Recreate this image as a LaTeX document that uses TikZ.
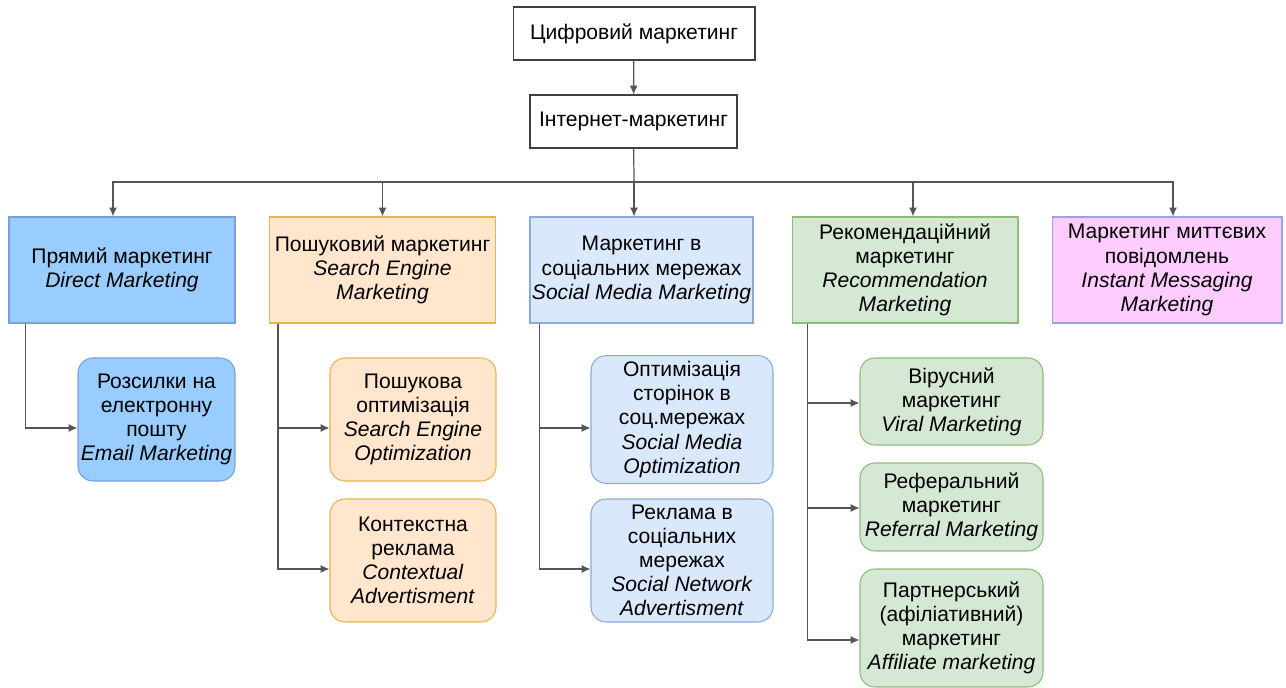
\documentclass[tikz,border=0pt]{standalone}
\usepackage{fontspec}
\setmainfont{Liberation Sans}
\usetikzlibrary{arrows.meta,calc}

\definecolor{dmfill}{RGB}{153,204,255}
\definecolor{dmline}{RGB}{120,160,220}
\definecolor{semfill}{RGB}{255,230,204}
\definecolor{semline}{RGB}{230,180,80}
\definecolor{smmfill}{RGB}{218,232,252}
\definecolor{smmline}{RGB}{140,170,215}
\definecolor{rmfill}{RGB}{213,232,212}
\definecolor{rmline}{RGB}{140,190,120}
\definecolor{immfill}{RGB}{255,204,255}
\definecolor{immline}{RGB}{160,160,230}
\definecolor{linkgray}{RGB}{85,85,85}

\tikzset{
	mappicture/.style = {
		x = 0.02cm,
		y = -0.02cm,
		font = \fontsize{12}{13.7}\selectfont,
		arrow/.style = {
			draw = linkgray,
			line width = 0.7pt,
			-{Latex[length=5pt,width=4.5pt]},
		},
		link/.style = {
			draw = linkgray,
			line width = 0.7pt,
		}
	},
	rootnode/.style = {
		rectangle,
		draw = black!75,
		line width = 0.6pt,
		align = center,
		minimum height = 1.06cm
	},
	catnode/.style = {
		rectangle,
		line width = 0.6pt,
		align = center,
		inner xsep = 1pt,
		minimum width = 4.52cm,
		minimum height = 2.12cm
	},
	subnode/.style = {
		rectangle,
		rounded corners = 0.3cm,
		line width = 0.6pt,
		align = center,
		inner xsep = 0.5pt
	},
	dm/.style = {fill = dmfill, draw = dmline},
	sem/.style = {fill = semfill, draw = semline},
	smm/.style = {fill = smmfill, draw = smmline},
	rm/.style = {fill = rmfill, draw = rmline},
	imm/.style = {fill = immfill, draw = immline}
}

\begin{document}
\begin{tikzpicture}[mappicture]
	\useasboundingbox (0,0) rectangle (1286,688);

	\node[rootnode, minimum width = 4.84cm] (digital) at (634,33.5) {Цифровий маркетинг};
	\node[rootnode, minimum width = 4.14cm] (internet) at (633.5,121.5) {Інтернет-маркетинг};

	\node[catnode, dm] (direct) at (122,270) {Прямий маркетинг\\ \textit{Direct Marketing}};
	\node[catnode, sem] (search) at (382.5,270) {Пошуковий маркетинг\\ \textit{Search Engine}\\ \textit{Marketing}};
	\node[catnode, smm, minimum width = 4.46cm] (social) at (641.5,270) {Маркетинг в\\ соціальних мережах\\ \textit{Social Media Marketing}};
	\node[catnode, rm] (recom) at (905,270) {Рекомендаційний\\ маркетинг\\ \textit{Recommendation}\\ \textit{Marketing}};
	\node[catnode, imm, minimum width = 4.6cm] (instant) at (1167,270) {Маркетинг миттєвих\\ повідомлень\\ \textit{Instant Messaging}\\ \textit{Marketing}};

	\node[subnode, dm, minimum width = 3.14cm, minimum height = 2.46cm] (email) at (156.5,419.5) {Розсилки на\\ електронну\\ пошту\\ \textit{Email Marketing}};

	\node[subnode, sem, minimum width = 3.32cm, minimum height = 2.46cm] (seo) at (413,419.5) {Пошукова\\ оптимізація\\ \textit{Search Engine}\\ \textit{Optimization}};
	\node[subnode, sem, minimum width = 3.32cm, minimum height = 2.46cm] (context) at (413,560.5) {Контекстна\\ реклама\\ \textit{Contextual}\\ \textit{Advertisment}};

	\node[subnode, smm, minimum width = 3.64cm, minimum height = 2.46cm] (smo) at (682,419.5) {Оптимізація\\ сторінок в\\ соц.мережах\\ \textit{Social Media}\\ \textit{Optimization}};
	\node[subnode, smm, minimum width = 3.64cm, minimum height = 2.46cm] (sna) at (682,560.5) {Реклама в\\ соціальних\\ мережах\\ \textit{Social Network}\\ \textit{Advertisment}};

	\node[subnode, rm, minimum width = 3.66cm, minimum height = 1.74cm] (viral) at (951.5,401.5) {Вірусний\\ маркетинг\\ \textit{Viral Marketing}};
	\node[subnode, rm, minimum width = 3.66cm, minimum height = 1.76cm] (referral) at (951.5,507) {Реферальний\\ маркетинг\\ \textit{Referral Marketing}};
	\node[subnode, rm, minimum width = 3.66cm, minimum height = 2.36cm] (affiliate) at (951.5,628) {Партнерський\\ (афіліативний)\\ маркетинг\\ \textit{Affiliate marketing}};

	\coordinate (bus) at (634,182);

	\begin{scope}[every path/.style = arrow]
		\path (digital) to (internet);
		\path[link, -] (internet) to (bus);

		\path (bus) -| ($(direct.north)+(-9,0)$);
		\path (bus) -| (search.north);
		\path (bus) to (social.north -| bus);
		\path (bus) -| ($(recom.north)+(8,0)$);
		\path (bus) -| ($(instant.north)+(6,0)$);

		\path ($(direct.south west)+(17,0)$) |- ($(email.west)+(0,8.5)$);

		\path ($(search.south west)+(9,0)$) |- ($(seo.west)+(0,8.5)$);
		\path ($(search.south west)+(9,0)$) |- ($(context.west)+(0,8.5)$);

		\path ($(social.south west)+(10,0)$) |- ($(smo.west)+(0,8.5)$);
		\path ($(social.south west)+(10,0)$) |- ($(sna.west)+(0,8.5)$);

		\path ($(recom.south west)+(16,0)$) |- ($(viral.west)+(0,1.5)$);
		\path ($(recom.south west)+(16,0)$) |- ($(referral.west)+(0,1)$);
		\path ($(recom.south west)+(16,0)$) |- ($(affiliate.west)+(0,12)$);
	\end{scope}
\end{tikzpicture}
\end{document}
